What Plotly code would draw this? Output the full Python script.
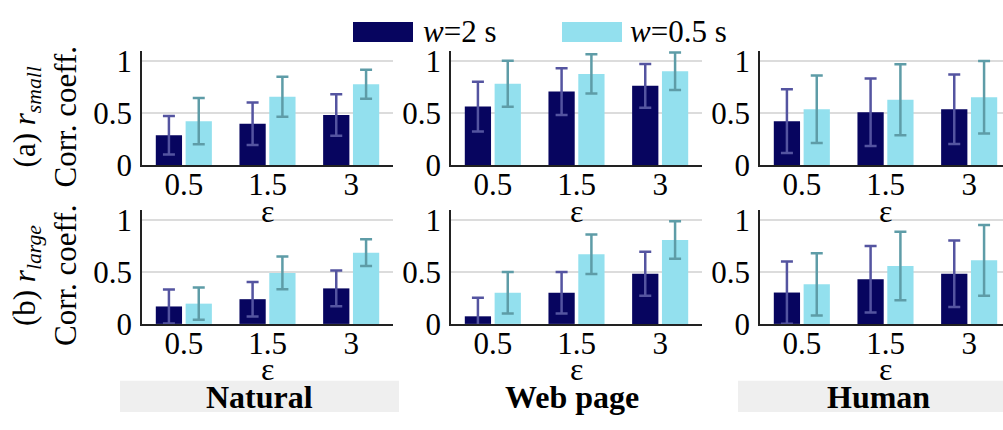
import plotly.graph_objects as go

# Privacy budget levels on the x axis
eps_labels = ["0.5", "1.5", "3"]

# Mean correlation coefficients and their standard deviations
natural_small_w2 = [0.29, 0.40, 0.485]
natural_small_w2_sd = [0.185, 0.205, 0.20]
natural_small_w05 = [0.425, 0.66, 0.78]
natural_small_w05_sd = [0.222, 0.193, 0.14]

web_small_w2 = [0.565, 0.71, 0.765]
web_small_w2_sd = [0.24, 0.225, 0.21]
web_small_w05 = [0.785, 0.88, 0.905]
web_small_w05_sd = [0.222, 0.188, 0.18]

human_small_w2 = [0.425, 0.51, 0.54]
human_small_w2_sd = [0.307, 0.325, 0.335]
human_small_w05 = [0.54, 0.63, 0.655]
human_small_w05_sd = [0.325, 0.342, 0.35]

natural_large_w2 = [0.168, 0.238, 0.342]
natural_large_w2_sd = [0.163, 0.166, 0.172]
natural_large_w05 = [0.195, 0.491, 0.686]
natural_large_w05_sd = [0.155, 0.157, 0.128]

web_large_w2 = [0.073, 0.30, 0.482]
web_large_w2_sd = [0.18, 0.20, 0.212]
web_large_w05 = [0.30, 0.671, 0.808]
web_large_w05_sd = [0.20, 0.19, 0.18]

human_large_w2 = [0.302, 0.43, 0.482]
human_large_w2_sd = [0.30, 0.32, 0.32]
human_large_w05 = [0.381, 0.558, 0.612]
human_large_w05_sd = [0.30, 0.33, 0.34]

scene_names = ["Natural", "Web page", "Human"]
legend_names = ["<i>w</i>=2 s", "<i>w</i>=0.5 s"]
row_titles = ["(a) <i>r</i><sub><i>small</i></sub>", "(b) <i>r</i><sub><i>large</i></sub>"]
y_tick_vals = [0, 0.5, 1]
y_tick_text = ["0", "0.5", "1"]

panels = [
    [(natural_small_w2, natural_small_w2_sd, natural_small_w05, natural_small_w05_sd),
     (web_small_w2, web_small_w2_sd, web_small_w05, web_small_w05_sd),
     (human_small_w2, human_small_w2_sd, human_small_w05, human_small_w05_sd)],
    [(natural_large_w2, natural_large_w2_sd, natural_large_w05, natural_large_w05_sd),
     (web_large_w2, web_large_w2_sd, web_large_w05, web_large_w05_sd),
     (human_large_w2, human_large_w2_sd, human_large_w05, human_large_w05_sd)],
]

W, H = 1003, 430
FONT = "Liberation Serif, Times New Roman, serif"
DARK = "#07055f"
LIGHT = "#93e0ee"
DARK_ERR = "#5454a0"
LIGHT_ERR = "#5e9ca7"

# panel geometry in pixels
col_left = [142, 451, 760]
panel_w = 251
row_top = [47.7, 215.7]
panel_h = 121.0
cat_w = panel_w / 3.0


def px_x(x):
    return x / W


def px_y(y):
    return 1 - y / H


fig = go.Figure()

for r in range(2):
    for c in range(3):
        idx = r * 3 + c + 1
        xa = "x" if idx == 1 else f"x{idx}"
        ya = "y" if idx == 1 else f"y{idx}"
        v2, s2, v05, s05 = panels[r][c]
        fig.add_trace(go.Bar(
            x=eps_labels, y=v2, xaxis=xa, yaxis=ya, name=legend_names[0],
            marker=dict(color=DARK, line=dict(width=0)), showlegend=False,
            offsetgroup="a",
            error_y=dict(type="data", array=s2, color=DARK_ERR, thickness=2.5, width=6),
        ))
        fig.add_trace(go.Bar(
            x=eps_labels, y=v05, xaxis=xa, yaxis=ya, name=legend_names[1],
            marker=dict(color=LIGHT, line=dict(width=0)), showlegend=False,
            offsetgroup="b",
            error_y=dict(type="data", array=s05, color=LIGHT_ERR, thickness=2.5, width=6),
        ))

        left = col_left[c]
        right = min(left + panel_w, W)
        x_hi = -0.5 + (right - left) / cat_w
        top = row_top[r]
        bottom = top + panel_h
        xkey = "xaxis" if idx == 1 else f"xaxis{idx}"
        ykey = "yaxis" if idx == 1 else f"yaxis{idx}"
        fig.layout[xkey] = dict(
            domain=[px_x(left), px_x(right)], anchor=ya,
            range=[-0.5, x_hi], type="category",
            showline=True, linecolor="#222222", linewidth=2,
            ticks="", ticklabelstandoff=-9,
            tickfont=dict(family=FONT, size=31, color="black"),
            showgrid=False, zeroline=False, fixedrange=True,
        )
        fig.layout[ykey] = dict(
            domain=[px_y(bottom), px_y(top)], anchor=xa,
            range=[0, 1.1], tickvals=y_tick_vals, ticktext=y_tick_text,
            showline=True, linecolor="#222222", linewidth=1.5,
            ticks="", tickfont=dict(family=FONT, size=31, color="black"),
            showgrid=True, gridcolor="#dcdcdc", gridwidth=1.5,
            zeroline=False, ticklabelstandoff=2, fixedrange=True,
        )

        # x-axis title (epsilon) under each panel
        fig.add_annotation(
            x=px_x(left + panel_w / 2), y=px_y(bottom + 48), xref="paper", yref="paper",
            text="ε", showarrow=False, xanchor="center", yanchor="middle",
            font=dict(family=FONT, size=32, color="black"),
        )

# row titles
row_title_y = [118, 286]
for r in range(2):
    fig.add_annotation(
        x=px_x(27), y=px_y(row_title_y[r]), xref="paper", yref="paper",
        text=row_titles[r], textangle=-90, showarrow=False,
        xanchor="center", yanchor="middle",
        font=dict(family=FONT, size=31, color="black"),
    )
    fig.add_annotation(
        x=px_x(65), y=px_y(row_title_y[r]), xref="paper", yref="paper",
        text="Corr. coeff.", textangle=-90, showarrow=False,
        xanchor="center", yanchor="middle",
        font=dict(family=FONT, size=31, color="black"),
    )

# legend drawn as boxes and labels
legend_boxes = [(353, 413, DARK), (562, 622, LIGHT)]
legend_text_x = [421, 628]
for (x0, x1, col), tx, name in zip(legend_boxes, legend_text_x, legend_names):
    fig.add_shape(type="rect", xref="paper", yref="paper",
                  x0=px_x(x0), x1=px_x(x1), y0=px_y(38), y1=px_y(17),
                  fillcolor=col, line=dict(width=0))
    fig.add_annotation(
        x=px_x(tx), y=px_y(27), xref="paper", yref="paper", text=name,
        showarrow=False, xanchor="left", yanchor="middle",
        font=dict(family=FONT, size=31, color="black"),
    )

# scene labels along the bottom
scene_boxes = [(120, 399), None, (738, 1003)]
scene_centers = [259, 572, 878]
for box, cx, name in zip(scene_boxes, scene_centers, scene_names):
    if box is not None:
        fig.add_shape(type="rect", xref="paper", yref="paper",
                      x0=px_x(box[0]), x1=px_x(box[1]), y0=px_y(430), y1=px_y(397),
                      fillcolor="#efefef", line=dict(width=0), layer="below")
    fig.add_annotation(
        x=px_x(cx), y=px_y(414), xref="paper", yref="paper",
        text=f"<b>{name}</b>", showarrow=False, xanchor="center", yanchor="middle",
        font=dict(family=FONT, size=32, color="black"),
    )

fig.update_layout(
    width=W, height=H,
    margin=dict(l=0, r=0, t=0, b=0),
    paper_bgcolor="white", plot_bgcolor="white",
    barmode="group", bargap=0.287, bargroupgap=0.12,
    showlegend=False,
)

fig.write_html("out.html")
